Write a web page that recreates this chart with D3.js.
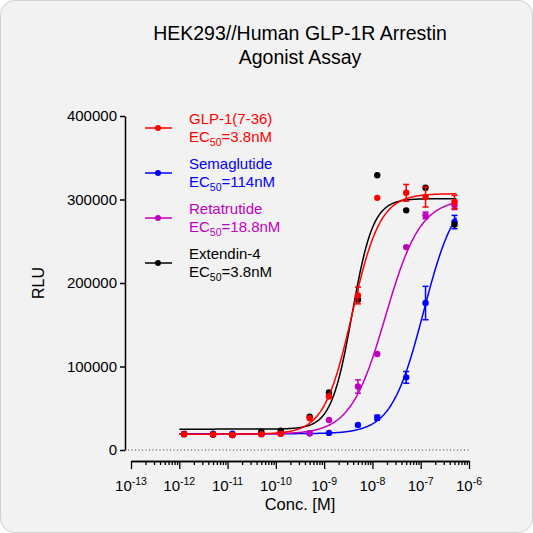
<!DOCTYPE html><html><head><script src="https://cdn.jsdelivr.net/npm/d3@7"></script>
<style>body{margin:0;background:#fff}text{font-family:Arial,"Liberation Sans",sans-serif}</style></head><body>
<svg id="c" width="533" height="533"></svg>
<script>
const logConc=[-11.9,-11.3,-10.9,-10.3,-9.9,-9.3,-8.9,-8.3,-7.9,-7.3,-6.9,-6.3];
const glp=[19000,18500,18000,19000,19500,38000,64000,185000,302000,308000,303000,297000];
const glpErr=[0,0,0,0,0,0,0,10000,0,10000,12000,8000];
const sema=[19500,19500,19500,19500,20000,20000,20500,30000,38700,87000,176000,273000];
const semaErr=[0,0,0,0,0,0,0,0,3000,7000,20000,8000];
const reta=[19000,18500,18000,19000,19500,20000,36000,76000,115000,243000,281000,293000];
const retaErr=[0,0,0,0,0,0,0,8000,0,0,4000,5000];
const exe=[19000,18500,18000,22000,23000,40000,69000,180000,329000,287000,314000,270000];
const names=["GLP-1(7-36)","Semaglutide","Retatrutide","Extendin-4"];
const ec50=["3.8nM","114nM","18.8nM","3.8nM"];
const colors=["#ff0000","#0000ff","#c000c0","#000000"];
const fits=[[19000,307000,-8.42,1.5],[19500,312000,-6.94,1.3],[19000,301000,-7.73,1.2],[25000,301000,-8.42,2.0]];
const yTicks=[0,100000,200000,300000,400000];
const xTicks=[-13,-12,-11,-10,-9,-8,-7,-6];
const svg=d3.select("#c");
svg.append("rect").attr("x",0.5).attr("y",0.5).attr("width",532).attr("height",532).attr("rx",14).attr("fill","#f2f2f2").attr("stroke","#d0d0d0");
const x=d3.scaleLinear().domain([-13,-6]).range([131,469]);
const y=d3.scaleLinear().domain([0,400000]).range([450,116]);
svg.append("text").attr("x",300).attr("y",40).attr("text-anchor","middle").attr("font-size",19.5).text("HEK293//Human GLP-1R Arrestin");
svg.append("text").attr("x",300).attr("y",64).attr("text-anchor","middle").attr("font-size",19.5).text("Agonist Assay");
const ya=svg.append("g").attr("transform","translate(125,0)").call(d3.axisLeft(y).tickValues(yTicks).tickFormat(d3.format("d")).tickSize(5).tickSizeOuter(0));
ya.selectAll("text").attr("font-size",15).attr("fill","#000");
ya.selectAll("line,path").attr("stroke","#000").attr("stroke-width",1.5);
svg.append("text").attr("transform","translate(44,283) rotate(-90)").attr("text-anchor","middle").attr("font-size",16).text("RLU");
svg.append("line").attr("x1",128).attr("x2",470).attr("y1",y(0)).attr("y2",y(0)).attr("stroke","#333").attr("stroke-dasharray","1,2.5");
const minor=[];xTicks.slice(0,-1).forEach(t=>{for(let k=2;k<10;k++)minor.push(t+Math.log10(k));});
const xg=svg.append("g").attr("transform","translate(0,461)");
xg.call(d3.axisBottom(x).tickValues(minor).tickFormat("").tickSize(4).tickSizeOuter(0));
xg.append("g").call(d3.axisBottom(x).tickValues(xTicks).tickFormat("").tickSize(8).tickSizeOuter(0));
xg.selectAll("line,path").attr("stroke","#000").attr("stroke-width",1.3);
xTicks.forEach(t=>{const tx=svg.append("text").attr("x",x(t)).attr("y",491).attr("text-anchor","middle").attr("font-size",15);
 tx.append("tspan").text("10");tx.append("tspan").attr("dy",-6).attr("font-size",10.5).text(t);});
svg.append("text").attr("x",300).attr("y",510).attr("text-anchor","middle").attr("font-size",16.5).text("Conc. [M]");
const data=[[glp,glpErr],[sema,semaErr],[reta,retaErr],[exe,null]];
const line=d3.line().x(d=>x(d[0])).y(d=>y(d[1]));
const order=[1,2,3,0];
order.forEach(i=>{const [b,t,l,h]=fits[i];
 const pts=d3.range(-12,-6.24,0.02).map(v=>[v,b+(t-b)/(1+Math.pow(10,(l-v)*h))]);
 svg.append("path").attr("d",line(pts)).attr("fill","none").attr("stroke",colors[i]).attr("stroke-width",1.5);
 const [vals,err]=data[i];
 vals.forEach((v,j)=>{if(err&&err[j]>0){const g=svg.append("g").attr("stroke",colors[i]).attr("stroke-width",1.5);
   g.append("line").attr("x1",x(logConc[j])).attr("x2",x(logConc[j])).attr("y1",y(v-err[j])).attr("y2",y(v+err[j]));
   [v-err[j],v+err[j]].forEach(e=>g.append("line").attr("x1",x(logConc[j])-3).attr("x2",x(logConc[j])+3).attr("y1",y(e)).attr("y2",y(e)));}
  svg.append("circle").attr("cx",x(logConc[j])).attr("cy",y(v)).attr("r",3.2).attr("fill",colors[i]);});
});
names.forEach((n,i)=>{const ly=128+i*45;
 svg.append("line").attr("x1",145).attr("x2",172).attr("y1",ly).attr("y2",ly).attr("stroke",colors[i]).attr("stroke-width",1.5);
 svg.append("circle").attr("cx",158).attr("cy",ly).attr("r",3).attr("fill",colors[i]);
 svg.append("text").attr("x",189).attr("y",ly-4).attr("font-size",15).attr("fill",colors[i]).text(n);
 const t=svg.append("text").attr("x",189).attr("y",ly+14).attr("font-size",15).attr("fill",colors[i]);
 t.append("tspan").text("EC");t.append("tspan").attr("dy",4).attr("font-size",10.5).text("50");t.append("tspan").attr("dy",-4).text("="+ec50[i]);});
</script></body></html>
